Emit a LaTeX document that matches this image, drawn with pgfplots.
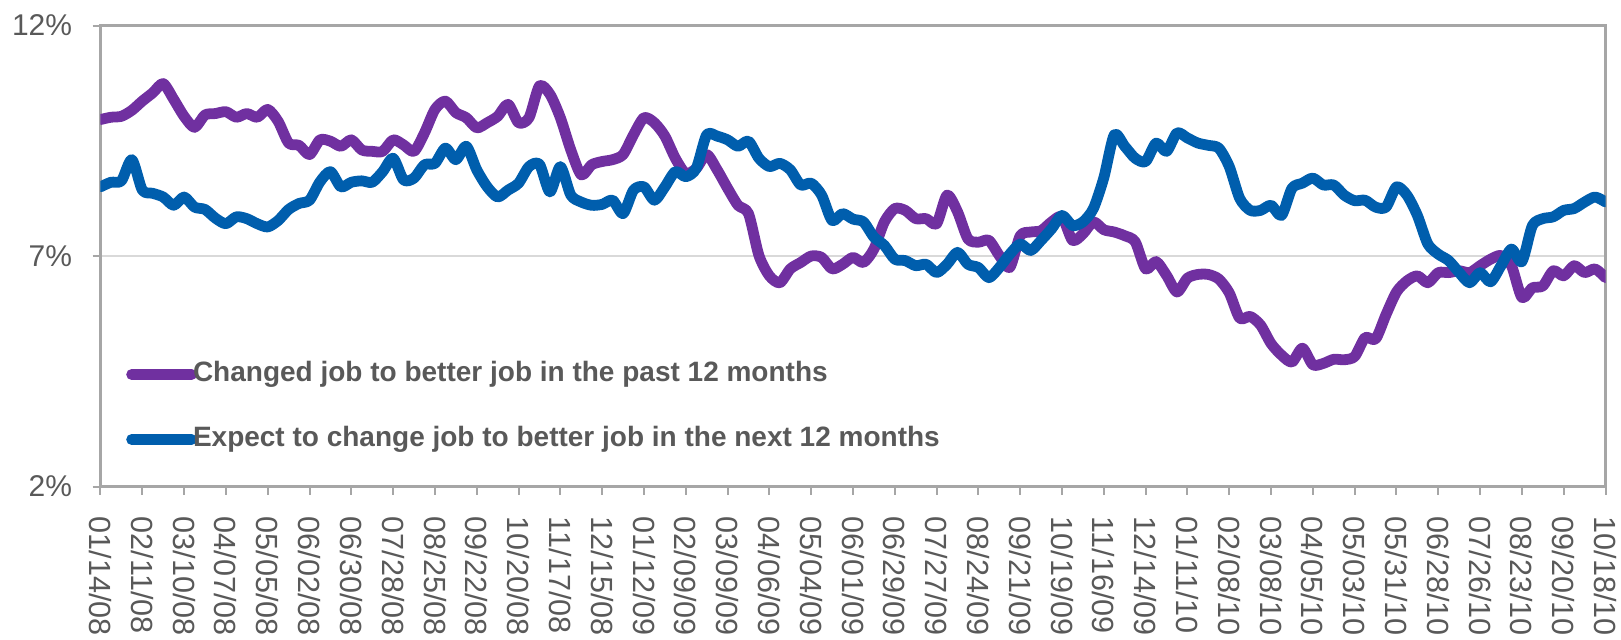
\documentclass[border=0pt]{standalone}
\usepackage{fontspec}
\setmainfont{Liberation Sans}
\usepackage{pgfplots}
\pgfplotsset{compat=1.18}
\definecolor{cpurple}{HTML}{7030A0}
\definecolor{cblue}{HTML}{005EAD}
\definecolor{ctext}{HTML}{595959}
\definecolor{caxis}{HTML}{A6A6A6}
\definecolor{cgrid}{HTML}{D9D9D9}
\begin{document}
\begin{tikzpicture}
\begin{axis}[
  scale only axis, width=752.5pt, height=230.5pt,
  xmin=0, xmax=144, ymin=2, ymax=12,
  xtick={0,4,...,144},
  xticklabels={01/14/08,02/11/08,03/10/08,04/07/08,05/05/08,06/02/08,06/30/08,07/28/08,08/25/08,09/22/08,10/20/08,11/17/08,12/15/08,01/12/09,02/09/09,03/09/09,04/06/09,05/04/09,06/01/09,06/29/09,07/27/09,08/24/09,09/21/09,10/19/09,11/16/09,12/14/09,01/11/10,02/08/10,03/08/10,04/05/10,05/03/10,05/31/10,06/28/10,07/26/10,08/23/10,09/20/10,10/18/10},
  ytick={2,7,12}, yticklabels={2\%,7\%,12\%},
  axis line style={caxis, line width=1.2pt},
  tick style={caxis, line width=1pt},
  tick align=outside, major tick length=4pt,
  xtick pos=lower, ytick pos=left,
  ymajorgrids, grid style={cgrid, line width=0.8pt},
  tick label style={font=\fontsize{15}{18}\selectfont, text=ctext},
  xticklabel style={font=\fontsize{15.3}{18}\selectfont, rotate=-90, anchor=west, inner ysep=0pt, inner xsep=11pt},
  yticklabel style={inner sep=0pt, xshift=-10pt},
  legend cell align=left,
  legend style={at={(0.01681,0.1725)}, anchor=west, draw=none, fill=none, inner sep=0pt,
    font=\bfseries\fontsize{14}{16}\selectfont, text=ctext, row sep=19.5pt, column sep=-2pt,
    nodes={inner sep=0pt, text height=10pt, text depth=3pt}},
  legend image code/.code={\path (0pt,0pt) -- (30pt,0pt); \draw[#1, line cap=round] (2.7pt,0pt) -- (26.5pt,0pt);},
  every axis plot/.append style={line width=5.4pt, line join=round, line cap=round, smooth, tension=0.45},
]
\addplot[cpurple] table {
0 9.96
1 10.01
2 10.03
3 10.16
4 10.36
5 10.54
6 10.74
7 10.40
8 10.03
9 9.79
10 10.06
11 10.09
12 10.13
13 10.01
14 10.09
15 10.01
16 10.18
17 9.92
18 9.45
19 9.40
20 9.20
21 9.52
22 9.49
23 9.38
24 9.52
25 9.30
26 9.27
27 9.27
28 9.52
29 9.41
30 9.27
31 9.67
32 10.18
33 10.36
34 10.11
35 10.00
36 9.78
37 9.89
38 10.03
39 10.29
40 9.89
41 10.00
42 10.69
43 10.51
44 10.00
45 9.30
46 8.76
47 8.98
48 9.05
49 9.09
50 9.20
51 9.63
52 10.00
53 9.89
54 9.60
55 9.12
56 8.79
57 8.90
58 9.20
59 8.87
60 8.47
61 8.10
62 7.92
63 7.01
64 6.57
65 6.42
66 6.72
67 6.86
68 7.00
69 6.97
70 6.72
71 6.82
72 6.97
73 6.86
74 7.15
75 7.74
76 8.03
77 7.99
78 7.81
79 7.81
80 7.70
81 8.32
82 7.96
83 7.37
84 7.30
85 7.34
86 7.01
87 6.75
88 7.44
89 7.52
90 7.55
91 7.74
92 7.85
93 7.34
94 7.48
95 7.74
96 7.57
97 7.52
98 7.44
99 7.31
100 6.72
101 6.88
102 6.58
103 6.22
104 6.52
105 6.60
106 6.60
107 6.50
108 6.20
109 5.65
110 5.69
111 5.50
112 5.10
113 4.85
114 4.70
115 5.00
116 4.64
117 4.67
118 4.76
119 4.75
120 4.82
121 5.23
122 5.20
123 5.73
124 6.22
125 6.46
126 6.57
127 6.42
128 6.64
129 6.64
130 6.68
131 6.64
132 6.79
133 6.93
134 7.01
135 6.79
136 6.10
137 6.31
138 6.35
139 6.68
140 6.57
141 6.79
142 6.64
143 6.72
144 6.53
};
\addlegendentry{Changed job to better job in the past 12 months}
\addplot[cblue] table {
0 8.50
1 8.60
2 8.63
3 9.09
4 8.43
5 8.36
6 8.28
7 8.10
8 8.28
9 8.06
10 8.01
11 7.82
12 7.70
13 7.85
14 7.81
15 7.70
16 7.63
17 7.77
18 8.01
19 8.14
20 8.21
21 8.61
22 8.83
23 8.50
24 8.60
25 8.63
26 8.60
27 8.83
28 9.12
29 8.65
30 8.69
31 8.98
32 9.01
33 9.34
34 9.09
35 9.38
36 8.87
37 8.50
38 8.28
39 8.43
40 8.58
41 8.94
42 8.99
43 8.39
44 8.94
45 8.32
46 8.17
47 8.10
48 8.12
49 8.21
50 7.92
51 8.43
52 8.50
53 8.21
54 8.50
55 8.83
56 8.72
57 8.90
58 9.63
59 9.60
60 9.52
61 9.38
62 9.49
63 9.12
64 8.94
65 9.01
66 8.87
67 8.54
68 8.58
69 8.32
70 7.77
71 7.92
72 7.80
73 7.74
74 7.41
75 7.23
76 6.93
77 6.90
78 6.79
79 6.82
80 6.64
81 6.82
82 7.08
83 6.82
84 6.75
85 6.53
86 6.75
87 7.04
88 7.26
89 7.12
90 7.34
91 7.59
92 7.88
93 7.66
94 7.74
95 8.03
96 8.70
97 9.63
98 9.38
99 9.12
100 9.05
101 9.45
102 9.27
103 9.67
104 9.56
105 9.45
106 9.40
107 9.34
108 8.94
109 8.25
110 7.99
111 7.99
112 8.10
113 7.88
114 8.47
115 8.58
116 8.69
117 8.54
118 8.54
119 8.32
120 8.20
121 8.21
122 8.06
123 8.06
124 8.50
125 8.32
126 7.88
127 7.26
128 7.04
129 6.90
130 6.64
131 6.42
132 6.64
133 6.44
134 6.79
135 7.15
136 6.88
137 7.66
138 7.81
139 7.85
140 7.99
141 8.03
142 8.17
143 8.28
144 8.17
};
\addlegendentry{Expect to change job to better job in the next 12 months}
\end{axis}
\pgfresetboundingbox
\useasboundingbox (-50.25pt,-76.25pt) rectangle (760.25pt,243.25pt);
\end{tikzpicture}
\end{document}
